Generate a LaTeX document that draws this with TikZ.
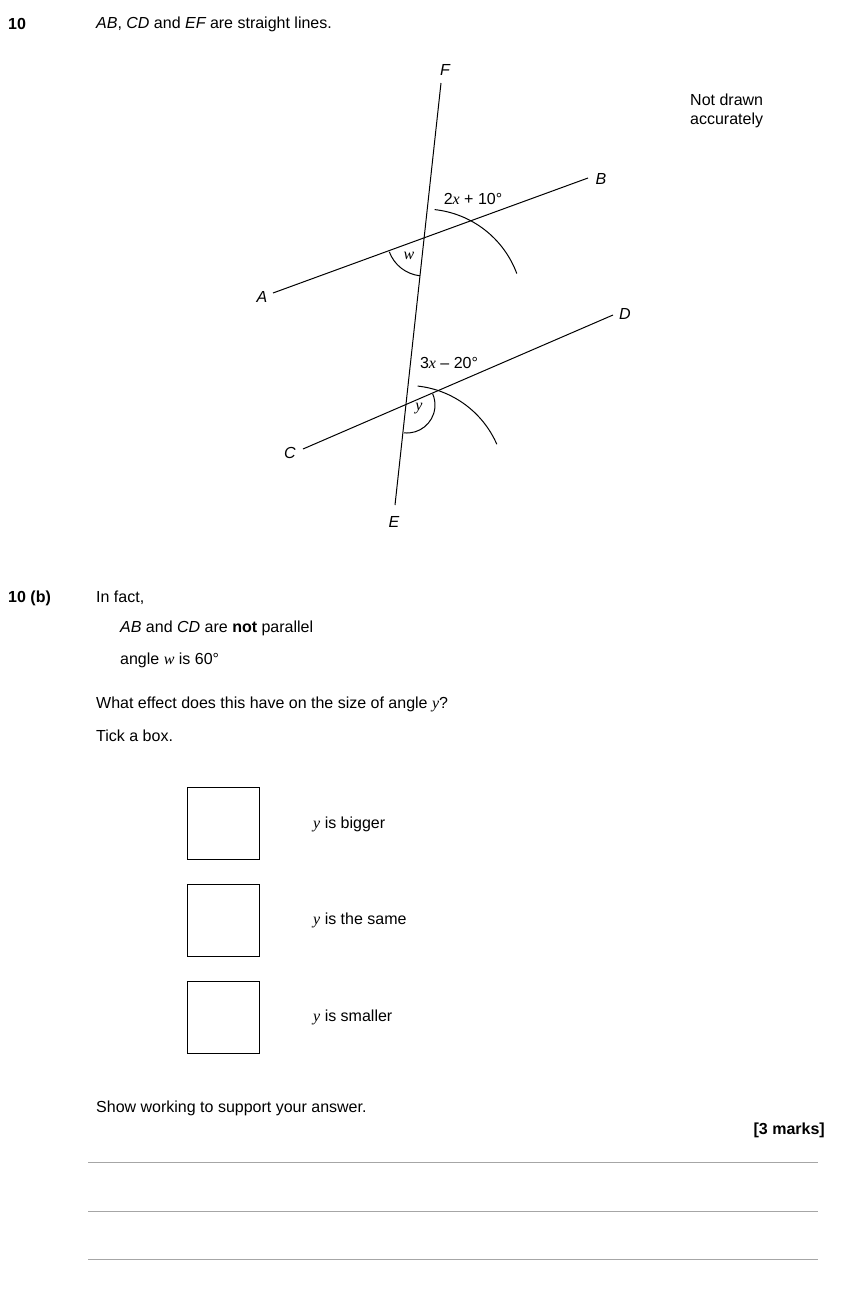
\documentclass[tikz,border=0pt]{standalone}
\usepackage{fontspec}
\setmainfont{Liberation Sans}
\newfontfamily\tms{Liberation Serif}
\newcommand{\vv}[1]{{\tms\itshape #1}}
\begin{document}
\begin{tikzpicture}[x=1pt,y=-1pt,
  txt/.style={anchor=west,inner sep=0pt,font=\fontsize{16}{19}\selectfont},
  lbl/.style={inner sep=0pt,font=\fontsize{16}{19}\selectfont\itshape},
  ln/.style={line width=1pt},
  tickbox/.style={draw,line width=0.9pt,minimum size=72pt,inner sep=0pt},
  rule/.style={draw=gray!70,line width=0.8pt}]
\useasboundingbox (0,0) rectangle (854,1291);
% geometry
\coordinate (F) at (441,83);
\coordinate (E) at (395,505);
\coordinate (A) at (273,293);
\coordinate (B) at (588,178);
\coordinate (C) at (303,449);
\coordinate (D) at (613,315);
\coordinate (P) at (424,239);
\coordinate (Q) at (407,405);
\draw[ln] (E) -- (F);
\draw[ln] (A) -- (B);
\draw[ln] (C) -- (D);
\draw[ln] ([shift={(20.4:99)}]P) arc[start angle=-20.4,end angle=-83.8,radius=99];
\draw[ln] ([shift={(-200.4:37)}]P) arc[start angle=-200.4,end angle=-263.8,radius=37];
\draw[ln] ([shift={(23.6:98)}]Q) arc[start angle=-23.6,end angle=-83.8,radius=98];
\draw[ln] ([shift={(-263.8:28)}]Q) arc[start angle=-263.8,end angle=-383.6,radius=28];
\node[lbl] (lF) at (445,70) {F};
\node[lbl] (lB) at (601,179) {B};
\node[lbl] (lA) at (262,297) {A};
\node[lbl] (lD) at (625,314) {D};
\node[lbl] (lC) at (290,453) {C};
\node[lbl] (lE) at (394,522) {E};
\node[inner sep=0pt,font=\fontsize{16}{19}\selectfont] (a1) at (473,199) {2\vv{x} + 10°};
\node[inner sep=0pt,font=\fontsize{16}{19}\selectfont] (a2) at (449,363) {3\vv{x} – 20°};
\node[inner sep=0pt,font=\fontsize{16}{19}\selectfont] (aw) at (409,256) {\vv{w}};
\node[inner sep=0pt,font=\fontsize{16}{19}\selectfont] (ay) at (419,409) {\vv{y}};
% texts
\node[txt] (q10) at (8,24) {\bfseries 10};
\node[txt] (t1) at (96,24) {\itshape AB\upshape, \itshape CD\upshape{} and \itshape EF\upshape{} are straight lines.};
\node[txt,align=left] (nd) at (690,111) {Not drawn\\accurately};
\node[txt] (q10b) at (8,598) {\bfseries 10 (b)};
\node[txt] (t2) at (96,598) {In fact,};
\node[txt] (t3) at (120,628) {\itshape AB\upshape{} and \itshape CD\upshape{} are \textbf{not} parallel};
\node[txt] (t4) at (120,660) {angle \vv{w} is 60°};
\node[txt] (t5) at (96,704) {What effect does this have on the size of angle \vv{y}?};
\node[txt] (t6) at (96,736) {Tick a box.};
\node[tickbox] (b1) at (223,823) {};
\node[tickbox] (b2) at (223,920) {};
\node[tickbox] (b3) at (223,1017) {};
\node[txt] (o1) at (313,824) {\vv{y} is bigger};
\node[txt] (o2) at (313,920) {\vv{y} is the same};
\node[txt] (o3) at (313,1017) {\vv{y} is smaller};
\node[txt] (t7) at (96,1108) {Show working to support your answer.};
\node[txt,anchor=east] (mk) at (825,1130) {\bfseries [3 marks]};
\coordinate (l1a) at (88,1162); \coordinate (l1b) at (818,1162);
\coordinate (l2a) at (88,1211); \coordinate (l2b) at (818,1211);
\coordinate (l3a) at (88,1259); \coordinate (l3b) at (818,1259);
\draw[rule] (l1a) -- (l1b);
\draw[rule] (l2a) -- (l2b);
\draw[rule] (l3a) -- (l3b);
\end{tikzpicture}
\end{document}
